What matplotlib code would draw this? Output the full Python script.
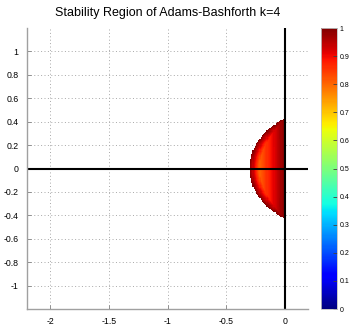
import numpy as np
import matplotlib
matplotlib.use("Agg")
import matplotlib.pyplot as plt

# Adams-Bashforth k=4: y_{n+1} = y_n + h/24 * (55 f_n - 59 f_{n-1} + 37 f_{n-2} - 9 f_{n-3})
ab_beta = [55, -59, 37, -9]
ab_denom = 24

# sample grid of the complex plane (h*lambda)
re_range = [-2.2, 0.0]
im_range = [-1.2, 1.2]
step = 0.01

xticks = [-2, -1.5, -1, -0.5, 0]
yticks = [-1, -0.8, -0.6, -0.4, -0.2, 0, 0.2, 0.4, 0.6, 0.8, 1]
cticks = [0, 0.1, 0.2, 0.3, 0.4, 0.5, 0.6, 0.7, 0.8, 0.9, 1]

plt.rcParams["font.family"] = ["Liberation Sans", "DejaVu Sans"]

re = np.arange(re_range[0], re_range[1] + step / 2, step)
im = np.arange(im_range[0], im_range[1] + step / 2, step)
X, Y = np.meshgrid(re, im)
Z = (X + 1j * Y).ravel()

# characteristic polynomial zeta^4 + c3 zeta^3 + c2 zeta^2 + c1 zeta + c0 (monic)
b = np.array(ab_beta) / ab_denom
c3 = -1 - b[0] * Z
c2 = -b[1] * Z
c1 = -b[2] * Z
c0 = -b[3] * Z
comp = np.zeros((Z.size, 4, 4), dtype=complex)
comp[:, 0, 0] = -c3
comp[:, 0, 1] = -c2
comp[:, 0, 2] = -c1
comp[:, 0, 3] = -c0
comp[:, 1, 0] = 1
comp[:, 2, 1] = 1
comp[:, 3, 2] = 1
rmax = np.abs(np.linalg.eigvals(comp)).max(axis=1).reshape(X.shape)
field = np.ma.masked_where(rmax >= 1, rmax)

fig = plt.figure(figsize=(3.63, 3.25), dpi=100)
ax = fig.add_axes([27 / 363, 16 / 325, 281 / 363, 281 / 325])
cax = fig.add_axes([321 / 363, 16 / 325, 16 / 363, 281 / 325])

mesh = ax.pcolormesh(X, Y, field, cmap="jet", vmin=0, vmax=1, shading="nearest")
ax.axhline(0, color="black", lw=1.5)
ax.axvline(0, color="black", lw=1.5)

ax.set_xlim(-2.2, 0.2)
ax.set_ylim(-1.2, 1.2)
ax.set_xticks(xticks)
ax.set_xticklabels(["-2", "-1.5", "-1", "-0.5", "0"])
ax.set_yticks(yticks)
ax.set_yticklabels(["-1", "-0.8", "-0.6", "-0.4", "-0.2", "0", "0.2", "0.4", "0.6", "0.8", "1"])
ax.grid(True, ls=(0, (1, 2.5)), color="#a8a8a8", lw=0.7)
ax.set_axisbelow(True)
for s in ["top", "right"]:
    ax.spines[s].set_visible(False)
for s in ["left", "bottom"]:
    ax.spines[s].set_color("#a0a0a0")
    ax.spines[s].set_linewidth(1.0)
ax.tick_params(direction="in", length=3, width=0.6, color="#808080", labelsize=6.3, pad=6)
ax.set_title("Stability Region of Adams-Bashforth k=4", fontsize=9, pad=9)

cb = fig.colorbar(mesh, cax=cax, ticks=cticks)
cb.ax.set_yticklabels(["0", "0.1", "0.2", "0.3", "0.4", "0.5", "0.6", "0.7", "0.8", "0.9", "1"])
cb.ax.tick_params(direction="in", length=3, width=0.6, color="#404040", labelsize=5, pad=2)
cb.outline.set_edgecolor("#c0c0c0")
cb.outline.set_linewidth(0.6)

fig.savefig("out.png", dpi=100)
